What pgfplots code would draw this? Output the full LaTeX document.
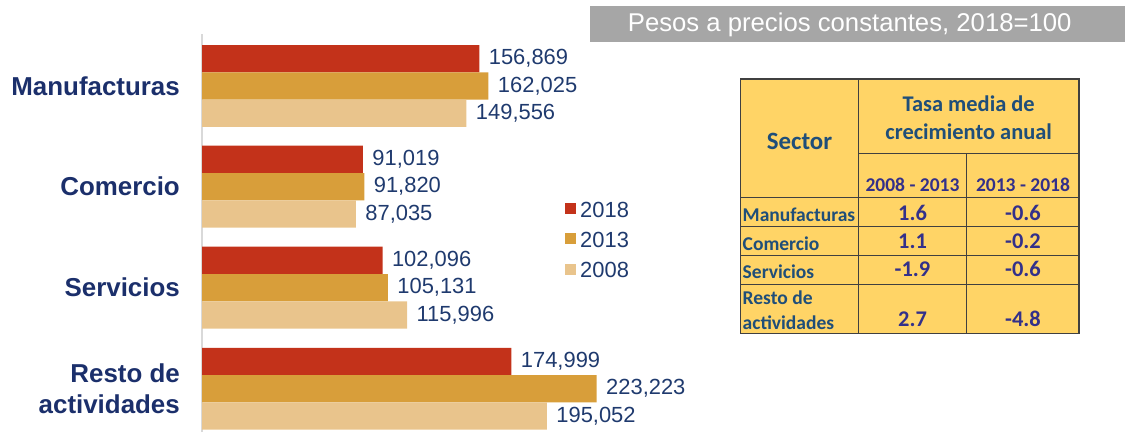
\documentclass[border=0pt]{standalone}
\usepackage{fontspec}
\setmainfont{Liberation Sans}
\newfontfamily\calibri{Carlito}
\usepackage{pgfplots}
\pgfplotsset{compat=1.18}

\definecolor{c18}{HTML}{C3321A}
\definecolor{c13}{HTML}{D89E3A}
\definecolor{c08}{HTML}{E9C48C}
\definecolor{navy}{HTML}{1B2F6B}
\definecolor{valtxt}{HTML}{1F3A6E}
\definecolor{tabfill}{HTML}{FFD466}
\definecolor{tabtxt}{HTML}{1F4E79}
\definecolor{tabnum}{HTML}{33308A}
\definecolor{ttlgray}{HTML}{A6A6A6}

\begin{document}
\begin{tikzpicture}[x=1bp,y=1bp,
    tlab/.style={inner sep=0pt, text=tabtxt, font=\calibri\bfseries\fontsize{19.6}{22}\selectfont},
    tnum/.style={inner sep=0pt, text=tabnum, font=\calibri\bfseries\fontsize{22.5}{26}\selectfont}]
\useasboundingbox (0,0) rectangle (1125,432);

% title box
\fill[ttlgray] (590,390.3) rectangle (1125,426);
\node[anchor=base, text=white, inner sep=0pt, font=\fontsize{25.8}{30}\selectfont]
    at (849.7,400.3) {Pesos a precios constantes, 2018=100};

\begin{scope}[xshift=202bp]
\begin{axis}[
    at={(0bp,0bp)}, anchor=origin,
    scale only axis, width=400bp, height=398bp,
    xmin=0, xmax=226240, ymin=0, ymax=398,
    clip=false,
    xbar, bar shift=0pt, bar width=27.3bp,
    axis x line=none, axis y line*=left,
    y axis line style={draw=black!15, line width=1.2bp, -},
    ytick={43.3,144.3,245.3,346},
    yticklabels={{Resto de\\actividades},Servicios,Comercio,Manufacturas},
    major tick length=0pt,
    yticklabel style={font=\bfseries\fontsize{26}{32}\selectfont, text=navy,
        align=right, inner sep=0pt, xshift=-22bp},
    nodes near coords,
    nodes near coords style={font=\fontsize{22}{26}\selectfont, text=valtxt, xshift=6bp},
    /pgf/number format/fixed,
    /pgf/number format/precision=0,
    /pgf/number format/1000 sep={,},
    /pgf/number format/assume math mode=true,
    legend image code/.code={\fill[#1] (0bp,-4.6bp) rectangle (11bp,6.4bp);},
    legend style={at={(0.9075,0.579)}, anchor=north west, draw=none, fill=none,
        inner sep=0pt, row sep=14.4bp, column sep=4bp,
        font=\fontsize{22}{26}\selectfont, text=valtxt,
        nodes={inner sep=0pt, text height=15.75bp, text depth=0pt}},
    legend cell align=left,
]
\addplot[fill=c18, draw=none] coordinates {
    (156869,373.3) (91019,272.6) (102096,171.6) (174999,70.6)};
\addlegendentry{2018}
\addplot[fill=c13, draw=none] coordinates {
    (162025,346) (91820,245.3) (105131,144.3) (223223,43.3)};
\addlegendentry{2013}
\addplot[fill=c08, draw=none] coordinates {
    (149556,318.7) (87035,218) (115996,117) (195052,16)};
\addlegendentry{2008}
\end{axis}
\end{scope}

% growth-rate table
\fill[tabfill] (740.7,98.7) rectangle (1079,353);
\begin{scope}[line width=1.3bp, draw=black!75]
\draw (740.7,98.7) rectangle (1079,353);
\draw (858.3,98.7) -- (858.3,353);
\draw (966.7,98.7) -- (966.7,278.7);
\draw (858.3,278.7) -- (1079,278.7);
\draw (740.7,234.3) -- (1079,234.3);
\draw (740.7,205.3) -- (1079,205.3);
\draw (740.7,176.7) -- (1079,176.7);
\draw (740.7,147.7) -- (1079,147.7);
\end{scope}
\node[tlab, anchor=base, font=\calibri\bfseries\fontsize{25}{28}\selectfont] at (799.5,283) {Sector};
\node[tlab, anchor=base, font=\calibri\bfseries\fontsize{22.5}{26}\selectfont] at (968.7,320.3) {Tasa media de};
\node[tlab, anchor=base, font=\calibri\bfseries\fontsize{22.5}{26}\selectfont] at (968.7,292.7) {crecimiento anual};
\node[tnum, anchor=base, font=\calibri\bfseries\fontsize{19.6}{22}\selectfont] at (912.5,240.3) {2008 - 2013};
\node[tnum, anchor=base, font=\calibri\bfseries\fontsize{19.6}{22}\selectfont] at (1023,240.3) {2013 - 2018};
\node[tlab, anchor=base west] at (742.5,211) {Manufacturas};
\node[tlab, anchor=base west] at (742.5,182) {Comercio};
\node[tlab, anchor=base west] at (742.5,153.7) {Servicios};
\node[tlab, anchor=base west] at (742.5,127.7) {Resto de};
\node[tlab, anchor=base west] at (742.5,102.7) {actividades};
\node[tnum, anchor=base] at (912.5,212) {1.6};
\node[tnum, anchor=base] at (1023,212) {-0.6};
\node[tnum, anchor=base] at (912.5,183.7) {1.1};
\node[tnum, anchor=base] at (1023,183.7) {-0.2};
\node[tnum, anchor=base] at (912.5,155.3) {-1.9};
\node[tnum, anchor=base] at (1023,155.3) {-0.6};
\node[tnum, anchor=base] at (912.5,105.3) {2.7};
\node[tnum, anchor=base] at (1023,105.3) {-4.8};
\end{tikzpicture}
\end{document}
